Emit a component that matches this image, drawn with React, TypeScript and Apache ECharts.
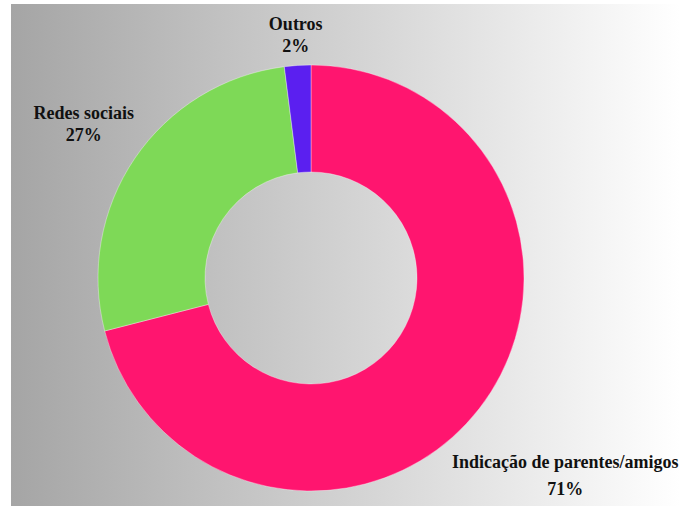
import React, { useEffect, useRef } from "react";
import * as echarts from "echarts";

const categories = ["Indicação de parentes/amigos", "Redes sociais", "Outros"];
const values = [71, 27, 2];
const colors = ["#FF156F", "#7ED957", "#5B1FF0"];

const W = 680;
const H = 506;
const CX = 311;
const CY = 278;
const R_IN = 106;
const R_OUT = 213;
const LABEL_GAP = 8;

export default function App() {
  const ref = useRef<HTMLDivElement>(null);

  useEffect(() => {
    if (!ref.current) return;
    const chart = echarts.init(ref.current, undefined, { renderer: "svg" });
    const total = values.reduce((a, b) => a + b, 0);
    const before: number[] = [];
    let acc = 0;
    values.forEach((v) => {
      before.push(acc);
      acc += v;
    });

    chart.setOption({
      animation: false,
      backgroundColor: "#ffffff",
      graphic: [
        {
          type: "rect",
          z: -10,
          shape: { x: 11, y: 4, width: W - 11, height: H - 4 },
          style: {
            fill: new echarts.graphic.LinearGradient(0, 0, 1, 0, [
              { offset: 0, color: "#a5a5a5" },
              { offset: 1, color: "#ffffff" },
            ]),
          },
          silent: true,
        },
      ],
      series: [
        {
          type: "pie",
          center: [CX, CY],
          radius: [R_IN, R_OUT],
          startAngle: 90,
          clockwise: true,
          avoidLabelOverlap: false,
          itemStyle: { borderColor: "rgba(255,255,255,0.35)", borderWidth: 1 },
          label: {
            show: true,
            position: "outside",
            fontFamily: "'Liberation Serif', 'Times New Roman', 'DejaVu Serif', serif",
            fontWeight: "bold",
            fontSize: 18,
            lineHeight: 22,
            color: "#111111",
            align: "center",
            formatter: (p: any) => `${p.name}\n${p.value}%`,
          },
          labelLine: { show: false },
          labelLayout: (params: any) => {
            const i = params.dataIndex;
            const mid = ((before[i] + values[i] / 2) / total) * Math.PI * 2;
            const dx = Math.sin(mid);
            const dy = -Math.cos(mid);
            const w = params.labelRect.width;
            const h = params.labelRect.height;
            let lo = 0;
            let hi = 800;
            for (let k = 0; k < 60; k++) {
              const d = (lo + hi) / 2;
              const bx = d * dx;
              const by = d * dy;
              const px = Math.max(bx - w / 2, Math.min(0, bx + w / 2));
              const py = Math.max(by - h / 2, Math.min(0, by + h / 2));
              const dist = Math.hypot(px, py);
              if (dist < R_OUT + LABEL_GAP) lo = d;
              else hi = d;
            }
            return {
              x: CX + hi * dx,
              y: CY + hi * dy,
              align: "center",
              verticalAlign: "middle",
            };
          },
          data: categories.map((name, i) => ({
            name,
            value: values[i],
            itemStyle: { color: colors[i] },
            label: i === 0 ? { lineHeight: 27 } : undefined,
          })),
        },
      ],
    });

    return () => chart.dispose();
  }, []);

  return (
    <div style={{ position: "absolute", left: 0, top: 0, width: W, height: H }}>
      <div ref={ref} style={{ width: W, height: H }} />
    </div>
  );
}
